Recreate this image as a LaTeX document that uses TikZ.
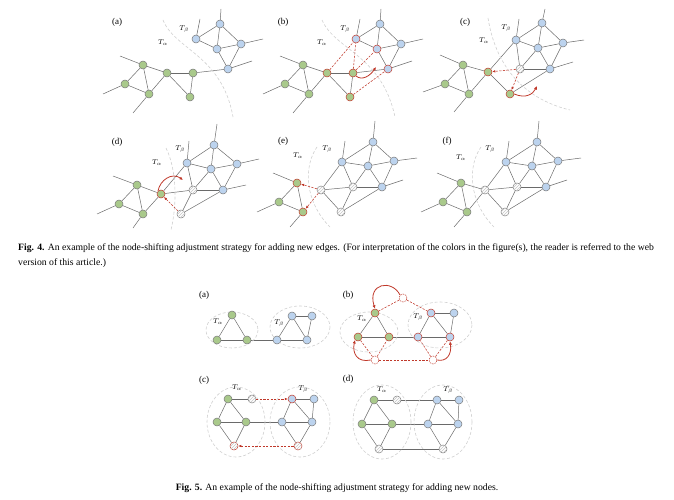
\documentclass[tikz,border=0pt]{standalone}
\usepackage{fontspec}
\setmainfont{Liberation Serif}
\usetikzlibrary{arrows.meta, backgrounds, patterns}
\definecolor{vgreen}{HTML}{A9C98B}
\definecolor{vblue}{HTML}{BCD3EE}
\definecolor{vline}{HTML}{7A7A7A}
\definecolor{eline}{HTML}{6A6A6A}
\definecolor{shiftred}{HTML}{C0392B}
\definecolor{zone}{HTML}{CFCFCF}

\begin{document}
\begin{tikzpicture}[x=1pt, y=-1pt,
  vtx/.style      = {circle, inner sep=0pt, minimum size=8pt, draw=vline, line width=0.5pt},
  grn/.style      = {vtx, fill=vgreen},
  blu/.style      = {vtx, fill=vblue},
  wht/.style      = {vtx, fill=white, postaction={pattern=north east lines, pattern color=gray!45}},
  hot/.style      = {draw=shiftred},
  ghost/.style    = {vtx, fill=white, draw=shiftred, dash pattern=on 1.5pt off 1pt},
  edge/.style     = {draw=eline, line width=0.5pt},
  link/.style     = {draw=shiftred, line width=0.55pt, dash pattern=on 2.2pt off 1.4pt},
  push/.style     = {link, -{Latex[length=3pt,width=2.6pt]}},
  swing/.style    = {draw=shiftred, line width=0.8pt, -{Latex[length=3.5pt,width=3.2pt]}},
  zoneline/.style = {draw=zone, line width=0.6pt, dash pattern=on 3pt off 2pt},
  tag/.style      = {font=\fontsize{9}{10}\selectfont},
  tname/.style    = {font=\fontsize{7.5}{8}\selectfont},
  capline/.style  = {font=\fontsize{9.7}{11}\selectfont, inner sep=0pt},
]
  \useasboundingbox (0,0) rectangle (674,500);

  % ---------- Fig. 4 (a)
  \node[tag]   (la)  at (117,22) {(a)};
  \node[tname] (aTb) at (184,29) {$T_\beta$};
  \node[tname] (aTa) at (163,43) {$T_\alpha$};
  \draw[zoneline] (163,20) .. controls (175,50) and (222,55) .. (233,117);
  \node[grn] (aG1) at (143,65) {};
  \node[grn] (aG2) at (125,84) {};
  \node[grn] (aG3) at (149,94) {};
  \node[grn] (aG4) at (167,73) {};
  \node[grn] (aG5) at (193,73) {};
  \node[grn] (aG6) at (190,97) {};
  \node[blu] (aB1) at (196,39) {};
  \node[blu] (aB2) at (220,24) {};
  \node[blu] (aB3) at (217,49) {};
  \node[blu] (aB4) at (228,69) {};
  \node[blu] (aB5) at (241,44) {};
  \coordinate (aS1) at (120,56);  \coordinate (aS2) at (103,94);
  \coordinate (aS3) at (133,113); \coordinate (aS4) at (200,19);
  \coordinate (aS5) at (221,9);   \coordinate (aS6) at (263,39);
  \coordinate (aS7) at (252,61);
  \begin{scope}[on background layer]
    \foreach \u/\v in {G1/S1, G2/S2, G3/S3, B1/S4, B2/S5, B5/S6, B4/S7,
                       G1/G2, G1/G3, G2/G3, G1/G4, G3/G4, G4/G5, G4/G6, G5/G6, G5/B4,
                       B1/B2, B1/B3, B2/B3, B2/B5, B3/B5, B3/B4, B4/B5}
      \draw[edge] (a\u) -- (a\v);
  \end{scope}

  % ---------- Fig. 4 (b)
  \node[tag]   (lb)  at (283,22) {(b)};
  \node[tname] (bTb) at (345,29) {$T_\beta$};
  \node[tname] (bTa) at (322,43) {$T_\alpha$};
  \draw[zoneline] (322,20) .. controls (335,50) and (382,55) .. (395,117);
  \node[grn] (bG1) at (303,65) {};
  \node[grn] (bG2) at (285,84) {};
  \node[grn] (bG3) at (309,94) {};
  \node[grn, hot] (bG4) at (327,73) {};
  \node[grn, hot] (bG5) at (353,73) {};
  \node[grn, hot] (bG6) at (350,97) {};
  \node[blu, hot] (bB1) at (356,39) {};
  \node[blu] (bB2) at (380,24) {};
  \node[blu, hot] (bB3) at (377,49) {};
  \node[blu, hot] (bB4) at (388,69) {};
  \node[blu] (bB5) at (401,44) {};
  \coordinate (bS1) at (280,56);  \coordinate (bS2) at (263,94);
  \coordinate (bS3) at (293,113); \coordinate (bS4) at (360,19);
  \coordinate (bS5) at (381,9);   \coordinate (bS6) at (423,39);
  \coordinate (bS7) at (412,61);
  \coordinate (bTo) at (376,67);
  \begin{scope}[on background layer]
    \foreach \u/\v in {G1/S1, G2/S2, G3/S3, B1/S4, B2/S5, B5/S6, B4/S7,
                       G1/G2, G1/G3, G2/G3, G1/G4, G3/G4, G4/G5, G4/G6, G5/G6, G5/B4,
                       B1/B2, B1/B3, B2/B3, B2/B5, B3/B5, B3/B4, B4/B5}
      \draw[edge] (b\u) -- (b\v);
    \foreach \u/\v in {G4/B1, G5/B1, G5/B3, G6/B4}
      \draw[link] (b\u) -- (b\v);
  \end{scope}
  \draw[swing] (bG5.south east) .. controls (362,81) and (370,76) .. (bTo);

  % ---------- Fig. 4 (c)
  \node[tag]   (lc)  at (465,22) {(c)};
  \node[tname] (cTb) at (506,28) {$T_\beta$};
  \node[tname] (cTa) at (484,41) {$T_\alpha$};
  \draw[zoneline] (488,18) .. controls (495,62) and (520,98) .. (570,110);
  \node[grn] (cG1) at (463,65) {};
  \node[grn] (cG2) at (445,84) {};
  \node[grn] (cG3) at (469,94) {};
  \node[grn, hot] (cG4) at (488,72) {};
  \node[grn, hot] (cG5) at (510,94) {};
  \node[wht] (cW) at (520,69) {};
  \node[blu] (cB1) at (516,40) {};
  \node[blu] (cB2) at (542,23) {};
  \node[blu] (cB3) at (538,48) {};
  \node[blu] (cB4) at (563,43) {};
  \node[blu] (cB5) at (550,69) {};
  \coordinate (cS1) at (440,55);  \coordinate (cS2) at (423,92);
  \coordinate (cS3) at (454,112); \coordinate (cS4) at (519,19);
  \coordinate (cS5) at (545,9);   \coordinate (cS6) at (584,40);
  \coordinate (cS7) at (573,62);
  \coordinate (cTo) at (537,86);
  \begin{scope}[on background layer]
    \foreach \u/\v in {G1/S1, G2/S2, G3/S3, B1/S4, B2/S5, B4/S6, B5/S7,
                       G1/G2, G1/G3, G2/G3, G1/G4, G3/G4, G4/G5, G4/B1, G5/B5,
                       W/B1, W/B3, W/B5,
                       B1/B2, B1/B3, B2/B3, B2/B4, B3/B4, B3/B5, B4/B5}
      \draw[edge] (c\u) -- (c\v);
  \end{scope}
  \draw[push] (cW) -- (cG4);
  \draw[push] (cW) -- (cG5);
  \draw[swing] (cG5.east) .. controls (526,99) and (533,94) .. (cTo);

  % ---------- Fig. 4 (d)
  \node[tag]   (ld)  at (117,142) {(d)};
  \node[tname] (dTb) at (180,149) {$T_\beta$};
  \node[tname] (dTa) at (157,163) {$T_\alpha$};
  \draw[zoneline] (166,148) .. controls (177,170) and (177,205) .. (171,230);
  \node[grn] (dG1) at (137,185) {};
  \node[grn] (dG2) at (119,204) {};
  \node[grn] (dG3) at (143,214) {};
  \node[grn, hot] (dG4) at (161,194) {};
  \node[wht] (dW1) at (193,190) {};
  \node[wht] (dW2) at (181,214) {};
  \node[blu] (dB1) at (187,163) {};
  \node[blu] (dB2) at (214,145) {};
  \node[blu] (dB3) at (211,169) {};
  \node[blu] (dB4) at (237,164) {};
  \node[blu] (dB5) at (223,190) {};
  \coordinate (dS1) at (113,176); \coordinate (dS2) at (97,214);
  \coordinate (dS3) at (133,228); \coordinate (dS4) at (189,141);
  \coordinate (dS5) at (217,124); \coordinate (dS6) at (259,159);
  \coordinate (dS7) at (246,185);
  \coordinate (dTo) at (183,180);
  \begin{scope}[on background layer]
    \foreach \u/\v in {G1/S1, G2/S2, G3/S3, B1/S4, B2/S5, B4/S6, B5/S7,
                       G1/G2, G1/G3, G2/G3, G1/G4, G3/G4, G4/B1, G4/W1,
                       W1/B1, W1/B3, W1/B5, W1/W2, W2/B5,
                       B1/B2, B1/B3, B2/B3, B2/B4, B3/B4, B3/B5, B4/B5}
      \draw[edge] (d\u) -- (d\v);
  \end{scope}
  \draw[push] (dW2) -- (dG4);
  \draw[swing] (dG4.north west) .. controls (160,180) and (172,172) .. (dTo);

  % ---------- Fig. 4 (e)
  \node[tag]   (le)  at (283,141) {(e)};
  \node[tname] (eTb) at (327,149) {$T_\beta$};
  \node[tname] (eTa) at (298,156) {$T_\alpha$};
  \draw[zoneline] (317,147) .. controls (303,167) and (305,202) .. (330,227);
  \node[grn, hot] (eG1) at (297,183) {};
  \node[grn] (eG2) at (279,202) {};
  \node[grn, hot] (eG3) at (303,212) {};
  \node[wht] (eW1) at (321,190) {};
  \node[wht] (eW2) at (353,187) {};
  \node[wht] (eW3) at (341,212) {};
  \node[blu] (eB1) at (342,162) {};
  \node[blu] (eB2) at (373,142) {};
  \node[blu] (eB3) at (368,166) {};
  \node[blu] (eB4) at (394,161) {};
  \node[blu] (eB5) at (382,187) {};
  \coordinate (eS1) at (273,173); \coordinate (eS2) at (257,212);
  \coordinate (eS3) at (290,227); \coordinate (eS4) at (345,141);
  \coordinate (eS5) at (375,121); \coordinate (eS6) at (417,158);
  \coordinate (eS7) at (403,180);
  \begin{scope}[on background layer]
    \foreach \u/\v in {G1/S1, G2/S2, G3/S3, B1/S4, B2/S5, B4/S6, B5/S7,
                       G1/G2, G1/G3, G2/G3,
                       W1/B1, W1/W2, W1/W3, W2/W3, W2/B5, W3/B5, B1/W2, B3/W2,
                       B1/B2, B1/B3, B2/B3, B2/B4, B3/B4, B3/B5, B4/B5}
      \draw[edge] (e\u) -- (e\v);
  \end{scope}
  \draw[push] (eW1) -- (eG1);
  \draw[push] (eW1) -- (eG3);

  % ---------- Fig. 4 (f)
  \node[tag]   (lf)  at (447,141) {(f)};
  \node[tname] (fTb) at (490,149) {$T_\beta$};
  \node[tname] (fTa) at (461,158) {$T_\alpha$};
  \draw[zoneline] (481,147) .. controls (467,167) and (469,202) .. (494,227);
  \node[grn] (fG1) at (461,183) {};
  \node[grn] (fG2) at (443,202) {};
  \node[grn] (fG3) at (467,212) {};
  \node[wht] (fW1) at (485,190) {};
  \node[wht] (fW2) at (517,187) {};
  \node[wht] (fW3) at (505,212) {};
  \node[blu] (fB1) at (506,162) {};
  \node[blu] (fB2) at (537,142) {};
  \node[blu] (fB3) at (532,166) {};
  \node[blu] (fB4) at (558,161) {};
  \node[blu] (fB5) at (546,187) {};
  \coordinate (fS1) at (437,173); \coordinate (fS2) at (421,212);
  \coordinate (fS3) at (454,227); \coordinate (fS4) at (509,141);
  \coordinate (fS5) at (539,121); \coordinate (fS6) at (581,158);
  \coordinate (fS7) at (567,180);
  \begin{scope}[on background layer]
    \foreach \u/\v in {G1/S1, G2/S2, G3/S3, B1/S4, B2/S5, B4/S6, B5/S7,
                       G1/G2, G1/G3, G2/G3, G1/W1, G3/W1,
                       W1/B1, W1/W2, W1/W3, W2/W3, W2/B5, W3/B5, B1/W2, B3/W2,
                       B1/B2, B1/B3, B2/B3, B2/B4, B3/B4, B3/B5, B4/B5}
      \draw[edge] (f\u) -- (f\v);
  \end{scope}

  % ---------- caption Fig. 4
  \node[capline, anchor=base west] (cap4a) at (18,250)
    {\textbf{Fig. 4.} An example of the node-shifting adjustment strategy for adding new edges. (For interpretation of the colors in the figure(s), the reader is referred to the web};
  \node[capline, anchor=base west] (cap4b) at (18,265) {version of this article.)};

  % ---------- Fig. 5 (a)
  \node[tag]   (ma)  at (204,295) {(a)};
  \draw[zoneline] (232,330) ellipse [x radius=26, y radius=18];
  \draw[zoneline] (300,327) ellipse [x radius=30, y radius=21];
  \node[tname] (qaTa) at (218,322) {$T_\alpha$};
  \node[tname] (qaTb) at (279,323) {$T_\beta$};
  \node[grn] (qaG1) at (232,315) {};
  \node[grn] (qaG2) at (217,340) {};
  \node[grn] (qaG3) at (247,340) {};
  \node[blu] (qaB1) at (292,316) {};
  \node[blu] (qaB2) at (312,316) {};
  \node[blu] (qaB3) at (277,340) {};
  \node[blu] (qaB4) at (307,340) {};
  \begin{scope}[on background layer]
    \foreach \u/\v in {G1/G2, G1/G3, G2/G3, G3/B3, B1/B2, B1/B3, B1/B4, B2/B4, B3/B4}
      \draw[edge] (qa\u) -- (qa\v);
  \end{scope}

  % ---------- Fig. 5 (b)
  \node[tag]   (mb)  at (348,295) {(b)};
  \draw[zoneline] (369,332) ellipse [x radius=29, y radius=20];
  \draw[zoneline] (440,325) ellipse [x radius=32, y radius=23];
  \node[tname] (qbTa) at (362,319) {$T_\alpha$};
  \node[tname] (qbTb) at (418,317) {$T_\beta$};
  \node[grn, hot] (qbG1) at (375,313) {};
  \node[grn, hot] (qbG2) at (358,337) {};
  \node[grn, hot] (qbG3) at (389,337) {};
  \node[blu, hot] (qbB1) at (431,313) {};
  \node[blu] (qbB2) at (454,313) {};
  \node[blu, hot] (qbB3) at (418,337) {};
  \node[blu, hot] (qbB4) at (450,337) {};
  \node[ghost] (qbW1) at (403,298) {};
  \node[ghost] (qbW2) at (375,360) {};
  \node[ghost] (qbW3) at (433,360) {};
  \begin{scope}[on background layer]
    \foreach \u/\v in {G1/G2, G1/G3, G2/G3, G3/B3, B1/B2, B1/B3, B1/B4, B2/B4, B3/B4}
      \draw[edge] (qb\u) -- (qb\v);
    \foreach \u/\v in {W1/G1, W1/B1, W2/G2, W2/G3, W2/W3, W3/B3, W3/B4}
      \draw[link] (qb\u) -- (qb\v);
  \end{scope}
  \draw[swing] (qbW1.north west) .. controls (392,279) and (367,283) .. (qbG1.north);
  \draw[swing] (qbW2.west) .. controls (357,363) and (352,353) .. (qbG2.south west);
  \draw[swing] (qbW3.east) .. controls (446,362) and (452,355) .. (qbB4.south);

  % ---------- Fig. 5 (c)
  \node[tag]   (mc)  at (204,380) {(c)};
  \draw[zoneline] (236,422) ellipse [x radius=29, y radius=35];
  \draw[zoneline] (300,422) ellipse [x radius=30, y radius=35];
  \node[tname] (qcTa) at (237,388) {$T_\alpha$};
  \node[tname] (qcTb) at (303,389) {$T_\beta$};
  \node[grn] (qcG1) at (228,399) {};
  \node[grn] (qcG2) at (217,422) {};
  \node[grn] (qcG3) at (246,422) {};
  \node[wht] (qcW1) at (252,399) {};
  \node[wht, hot] (qcW2) at (234,446) {};
  \node[blu, hot] (qcB1) at (292,399) {};
  \node[blu] (qcB2) at (314,399) {};
  \node[blu] (qcB3) at (282,422) {};
  \node[blu] (qcB4) at (312,422) {};
  \node[wht, hot] (qcW4) at (298,446) {};
  \begin{scope}[on background layer]
    \foreach \u/\v in {G1/G2, G1/G3, G2/G3, G1/W1, G3/B3, W2/G2, W2/G3,
                       B1/B2, B1/B3, B1/B4, B2/B4, B3/B4, B3/W4, B4/W4}
      \draw[edge] (qc\u) -- (qc\v);
  \end{scope}
  \draw[push] (qcW1) -- (qcB1);
  \draw[push, {Latex[length=3pt,width=2.6pt]}-] (qcW2) -- (qcW4);

  % ---------- Fig. 5 (d)
  \node[tag]   (md)  at (348,379) {(d)};
  \draw[zoneline] (382,422) ellipse [x radius=29, y radius=37];
  \draw[zoneline] (443,422) ellipse [x radius=29, y radius=37];
  \node[tname] (qdTa) at (382,390) {$T_\alpha$};
  \node[tname] (qdTb) at (448,390) {$T_\beta$};
  \node[grn] (qdG1) at (374,400) {};
  \node[grn] (qdG2) at (362,424) {};
  \node[grn] (qdG3) at (392,424) {};
  \node[wht] (qdW1) at (397,400) {};
  \node[wht] (qdW3) at (379,449) {};
  \node[blu] (qdB1) at (437,400) {};
  \node[blu] (qdB2) at (459,400) {};
  \node[blu] (qdB3) at (428,424) {};
  \node[blu] (qdB4) at (458,424) {};
  \node[wht] (qdW4) at (443,449) {};
  \begin{scope}[on background layer]
    \foreach \u/\v in {G1/G2, G1/G3, G2/G3, G1/W1, G3/B3, W1/B1, W3/W4, W3/G2, W3/G3,
                       B1/B2, B1/B3, B1/B4, B2/B4, B3/B4, W4/B3, W4/B4}
      \draw[edge] (qd\u) -- (qd\v);
  \end{scope}

  % ---------- caption Fig. 5
  \node[capline, anchor=base] (cap5) at (337,490)
    {\textbf{Fig. 5.} An example of the node-shifting adjustment strategy for adding new nodes.};
\end{tikzpicture}
\end{document}
